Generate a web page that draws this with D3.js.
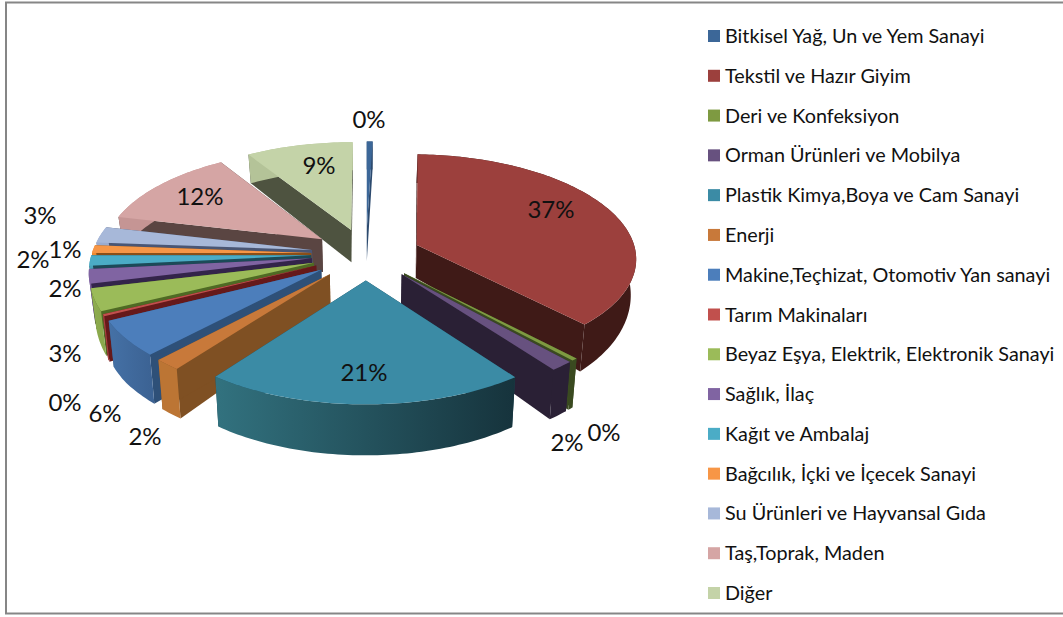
<!DOCTYPE html>
<html>
<head>
<meta charset="utf-8">
<script src="https://cdn.jsdelivr.net/npm/d3@7"></script>
<style>
html, body { margin: 0; padding: 0; background: #fff; }
svg { display: block; }
text { font-family: Lato, Carlito, sans-serif; fill: #111; }
</style>
</head>
<body>
<div id="chart"></div>
<script>
var categories = [
    "Bitkisel Yağ, Un ve Yem Sanayi", "Tekstil ve Hazır Giyim", "Deri ve Konfeksiyon",
    "Orman Ürünleri ve Mobilya", "Plastik Kimya,Boya ve Cam Sanayi", "Enerji",
    "Makine,Teçhizat, Otomotiv Yan sanayi", "Tarım Makinaları",
    "Beyaz Eşya, Elektrik, Elektronik Sanayi", "Sağlık, İlaç", "Kağıt ve Ambalaj",
    "Bağcılık, İçki ve İçecek Sanayi", "Su Ürünleri ve Hayvansal Gıda",
    "Taş,Toprak, Maden", "Diğer"
];
var values = [0.49, 37.41, 0.4, 1.5, 20.5, 1.7, 5.5, 0.3, 3.4, 2.2, 1.6, 1.2, 2.5, 12.35, 8.95];
var valueLabels = ["0%", "37%", "0%", "2%", "21%", "2%", "6%", "0%", "3%", "2%", "2%", "1%", "3%", "12%", "9%"];

var topColors = ["#3c6798", "#9c403d", "#7e9a41", "#67517f", "#3b8ba5", "#c8793a", "#4c7ebb", "#c1504d",
    "#9bbb59", "#8064a2", "#4bacc6", "#f79646", "#a7b8d9", "#d5a5a4", "#c4d3a8"];
var wallColors = ["#2c4a6e", "#3f1a17", "#3a4a20", "#2a2035", "#1c4553", "#7f5023", "#2e5078", "#66191a",
    "#4f6a24", "#33244a", "#1c4a58", "#8a4f18", "#4a5674", "#5a4542", "#4e5340"];
var rimLeft = ["#2c4a6e", "#3f1a17", "#3a4a20", "#2a2035", "#32727f", "#bc7534", "#4571a6", "#a8403e",
    "#90ae50", "#7a5c9c", "#47a3bb", "#f08a30", "#9aacd0", "#c59594", "#b4c398"];
var rimRight = ["#2c4a6e", "#3f1a17", "#3a4a20", "#2a2035", "#16333c", "#bc7534", "#3c6394", "#a8403e",
    "#8aa84c", "#7a5c9c", "#47a3bb", "#f08a30", "#9aacd0", "#c59594", "#b4c398"];

// label centres (same order as categories)
var labelX = [369, 551, 604, 567, 364, 145, 105, 65, 65, 65, 33, 65, 40, 200, 319];
var labelY = [118, 208, 431, 441, 371, 435, 412, 401, 352, 287, 258, 248, 214, 195, 164];

var width = 1063;
var height = 617;

// projection of the tilted pie, unit radius on the ground plane
var cx = 366;
var cy = 254;
var scaleX = 219.5;
var scaleY = 103;
var persp = 0.115;
var explode = 0.25;
// wall height grows towards the viewer
var thick = d3.scaleLinear().domain([-1.25, -0.1, 0.7, 1.25]).range([28, 33, 48, 51]);

function project(X, W, low) {
    var k = 1 / (1 - persp * W);
    var px = cx + scaleX * X * k;
    var py = cy + scaleY * W * k;
    if (low) {
        px = cx + (px - cx) * 0.98;
        py += thick(W);
    }
    return [px, py];
}

var svg = d3.select("#chart").append("svg")
    .attr("width", width)
    .attr("height", height);

svg.append("rect")
    .attr("x", 6).attr("y", 2.5)
    .attr("width", width + 10).attr("height", 611)
    .attr("fill", "#fff")
    .attr("stroke", "#868686")
    .attr("stroke-width", 2);

var defs = svg.append("defs");

var pie = d3.pie().sort(null).value(function(d) { return d; });
var arcs = pie(values).map(function(a, i) {
    var mid = (a.startAngle + a.endAngle) / 2;
    return {
        i: i,
        a0: a.startAngle,
        a1: a.endAngle,
        ox: Math.sin(mid) * explode,
        ow: -Math.cos(mid) * explode,
        depth: -Math.cos(mid)
    };
});

function edgePoints(s, low) {
    var n = Math.max(2, Math.ceil((s.a1 - s.a0) / 0.02));
    return d3.range(n + 1).map(function(j) {
        var t = s.a0 + (s.a1 - s.a0) * j / n;
        return project(Math.sin(t) + s.ox, -Math.cos(t) + s.ow, low);
    });
}

var line = d3.line();

// back slices first, nearer ones paint over them
arcs.slice().sort(function(a, b) { return d3.ascending(a.depth, b.depth); }).forEach(function(s) {
    var g = svg.append("g").attr("class", "slice");
    var apexTop = project(s.ox, s.ow, false);
    var apexLow = project(s.ox, s.ow, true);
    var topArc = edgePoints(s, false);
    var lowArc = edgePoints(s, true);
    var last = topArc.length - 1;

    // two radial walls
    [0, last].forEach(function(k) {
        g.append("path")
            .attr("d", line([apexTop, topArc[k], lowArc[k], apexLow]) + "Z")
            .attr("fill", wallColors[s.i]);
    });

    // outer rim, gradient runs left to right across the slice
    var xs = topArc.map(function(p) { return p[0]; });
    var grad = defs.append("linearGradient")
        .attr("id", "rim" + s.i)
        .attr("gradientUnits", "userSpaceOnUse")
        .attr("x1", d3.min(xs)).attr("x2", d3.max(xs))
        .attr("y1", 0).attr("y2", 0);
    grad.append("stop").attr("offset", 0).attr("stop-color", rimLeft[s.i]);
    grad.append("stop").attr("offset", 1).attr("stop-color", rimRight[s.i]);

    g.append("path")
        .attr("d", line(topArc.concat(lowArc.slice().reverse())) + "Z")
        .attr("fill", "url(#rim" + s.i + ")");

    // top face
    g.append("path")
        .attr("d", line([apexTop].concat(topArc)) + "Z")
        .attr("fill", topColors[s.i]);
});

svg.append("g").selectAll("text")
    .data(valueLabels)
    .join("text")
    .attr("x", function(d, i) { return labelX[i]; })
    .attr("y", function(d, i) { return labelY[i]; })
    .attr("text-anchor", "middle")
    .attr("dominant-baseline", "central")
    .attr("font-size", 24)
    .text(function(d) { return d; });

var legendY = d3.scalePoint().domain(categories).range([36, 593]);

var legend = svg.append("g").selectAll("g")
    .data(categories)
    .join("g")
    .attr("transform", function(d) { return "translate(0," + legendY(d) + ")"; });

legend.append("rect")
    .attr("x", 708).attr("y", -6)
    .attr("width", 12).attr("height", 12)
    .attr("fill", function(d, i) { return topColors[i]; });

legend.append("text")
    .attr("x", 725)
    .attr("y", -1)
    .attr("dominant-baseline", "central")
    .attr("font-size", 19.8)
    .text(function(d) { return d; });
</script>
</body>
</html>
